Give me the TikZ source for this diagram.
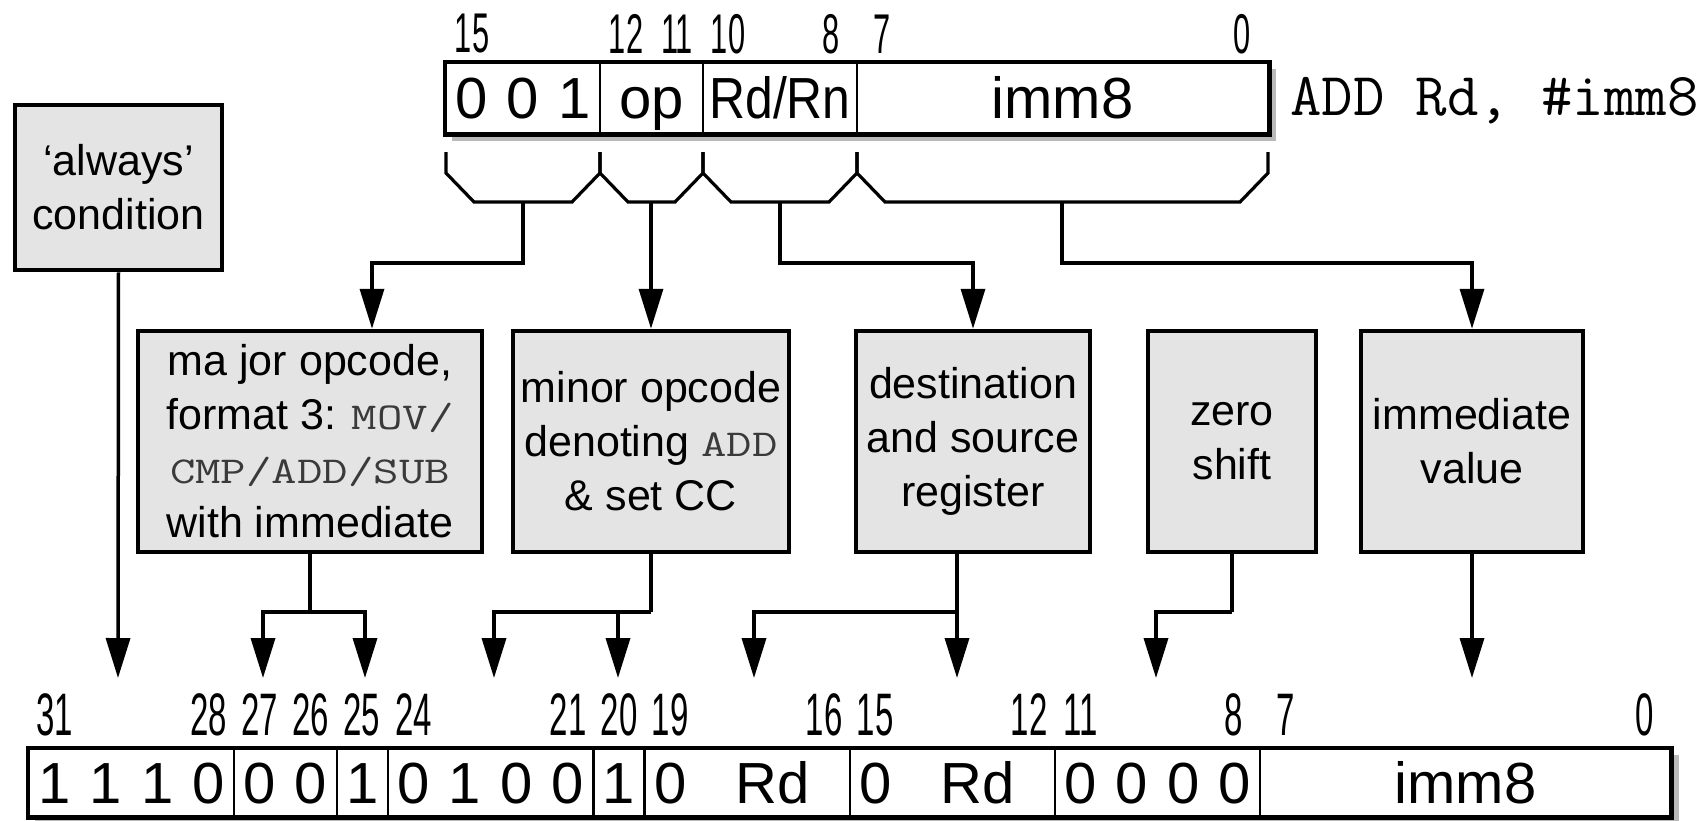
\documentclass[tikz,border=0pt]{standalone}
\usepackage{fontspec}
\setmainfont{Liberation Sans}
\newfontfamily\bitfont[FakeStretch=0.55]{Liberation Sans}
\usetikzlibrary{arrows.meta,calc,backgrounds}
\definecolor{boxgray}{HTML}{E4E4E4}
\definecolor{monogray}{HTML}{3A3A3A}
\newcommand{\mymono}[1]{{\color{monogray}\scalebox{1.3}[1]{\fontsize{38}{54}\selectfont\ttfamily #1}}}
\newcommand{\bd}[1]{\makebox[51.3pt]{#1}}
\tikzset{
  gbox/.style={draw, line width=4.5pt, fill=boxgray, align=center, inner sep=0pt,
               font=\fontsize{43}{54}\selectfont},
  conn/.style={line width=3.5pt},
  arr/.style={conn, -{Triangle[length=40pt,width=24pt]}},
  cell/.style={draw, line width=2.5pt, fill=white, inner sep=0pt,
               text height=41pt, text depth=0pt,
               font=\fontsize{58}{60}\selectfont},
  regframe/.style={draw, line width=4.5pt},
  regshadow/.style={fill=gray!55},
  bitlbl/.style={inner sep=0pt, font=\bitfont\fontsize{60}{60}\selectfont},
  bitlbltop/.style={inner sep=0pt, font=\bitfont\fontsize{56}{60}\selectfont},
  brk/.style={line width=3.2pt},
}
\begin{document}
\begin{tikzpicture}[x=1pt,y=-1pt]
\useasboundingbox (0,0) rectangle (1706,820);

% ---------------- top register ----------------
\node[cell, minimum width=154pt, minimum height=70pt] (t1) at (523,98) {\bd{0}\bd{0}\bd{1}};
\node[cell, minimum width=103pt, minimum height=70pt] (t2) at (651.5,98) {op};
\node[cell, minimum width=154pt, minimum height=70pt] (t3) at (780,98) {\scalebox{0.86}[1]{Rd/Rn}};
\node[cell, minimum width=411pt, minimum height=70pt] (t4) at (1062.5,98) {imm8};
\draw[regframe] (t1.north west) rectangle (t4.south east);
\begin{scope}[on background layer]
  \fill[regshadow] ($(t1.north west)+(7,7)$) rectangle ($(t4.south east)+(7,7)$);
\end{scope}

\foreach \x/\t in {472/15, 626/12, 677/11, 728/10, 831/8, 882/7, 1242/0}
  \node[bitlbltop] (tb\t) at (\x,34) {\t};

\node[anchor=base west, inner sep=0pt, font=\fontsize{61}{62}\selectfont\ttfamily]
  (asm) at (1290,115) {ADD Rd, \#imm8};

% brackets
\foreach \a/\b in {446/600, 600/703, 703/857, 857/1268}
  \draw[brk] (\a,152) -- (\a,173) -- (\a+28,202) -- (\b-28,202) -- (\b,173) -- (\b,152);
\coordinate (s1) at (523,202);
\coordinate (s2) at (651,202);
\coordinate (s3) at (780,202);
\coordinate (s4) at (1062,202);

% ---------------- boxes ----------------
\node[gbox, minimum width=207pt, minimum height=165pt] (always) at (118.5,187.5)
  {‘always’\\condition};
\node[gbox, minimum width=344pt, minimum height=221pt] (boxA) at (310,441.5)
  {ma jor opcode,\\format 3: \mymono{MOV/}\\\mymono{CMP/ADD/SUB}\\with immediate};
\node[gbox, minimum width=276pt, minimum height=221pt] (boxB) at (651,441.5)
  {minor opcode\\denoting \mymono{ADD}\\\& set CC};
\node[gbox, minimum width=234pt, minimum height=221pt] (boxC) at (973,441.5)
  {destination\\and source\\register};
\node[gbox, minimum width=168pt, minimum height=221pt] (boxD) at (1232,441.5)
  {zero\\shift};
\node[gbox, minimum width=222pt, minimum height=221pt] (boxE) at (1472,441.5)
  {immediate\\value};

% top connectors
\draw[arr] (s1) -- ++(0,61) -| ($(boxA.north)+(62,0)$);
\draw[arr] (s2) -- (boxB.north);
\draw[arr] (s3) -- ++(0,61) -| (boxC.north);
\draw[arr] (s4) -- ++(0,61) -| (boxE.north);

% ---------------- bottom register ----------------
\def\ry{782.5}
\node[cell, minimum width=205.2pt, minimum height=67pt] (c1) at (131.6,\ry) {\bd{1}\bd{1}\bd{1}\bd{0}};
\node[cell, minimum width=102.6pt, minimum height=67pt] (c2) at (285.5,\ry) {\bd{0}\bd{0}};
\node[cell, minimum width=51.3pt,  minimum height=67pt] (c3) at (362.45,\ry) {\bd{1}};
\node[cell, minimum width=205.2pt, minimum height=67pt] (c4) at (490.7,\ry) {\bd{0}\bd{1}\bd{0}\bd{0}};
\node[cell, minimum width=51.3pt,  minimum height=67pt] (c5) at (618.95,\ry) {\bd{1}};
\node[cell, minimum width=205.2pt, minimum height=67pt] (c6) at (747.2,\ry)
  {\bd{0}\makebox[153.9pt]{Rd}};
\node[cell, minimum width=205.2pt, minimum height=67pt] (c7) at (952.4,\ry)
  {\bd{0}\makebox[153.9pt]{Rd}};
\node[cell, minimum width=205.2pt, minimum height=67pt] (c8) at (1157.6,\ry) {\bd{0}\bd{0}\bd{0}\bd{0}};
\node[cell, minimum width=410.4pt, minimum height=67pt] (c9) at (1465.4,\ry) {imm8};
\draw[regframe] (c1.north west) rectangle (c9.south east);
\begin{scope}[on background layer]
  \fill[regshadow] ($(c1.north west)+(7,7)$) rectangle ($(c9.south east)+(7,7)$);
\end{scope}

\foreach \x/\t in {55/31, 208.5/28, 260/27, 311/26, 362/25, 414/24, 568/21, 619/20,
                   670/19, 824/16, 875/15, 1029/12, 1081/11, 1234/8, 1286/7, 1645/0}
  \node[bitlbl] (bb\t) at (\x,715) {\t};

% bottom connectors
\coordinate (hA) at (310,612);
\coordinate (hB) at (651,612);
\coordinate (hC) at (957,612);
\coordinate (hD) at (1232,612);
\coordinate (a31) at (118,678);
\coordinate (a27) at (263,678);
\coordinate (a25) at (365,678);
\coordinate (a23) at (494,678);
\coordinate (a20) at (618,678);
\coordinate (a18) at (754,678);
\coordinate (a14) at (957,678);
\coordinate (a10) at (1156,678);
\coordinate (a4)  at (1472,678);

\draw[arr] (always.south) -- (a31);
\draw[conn] (boxA.south) -- (hA);
\draw[arr] (hA) -| (a27);
\draw[arr] (hA) -| (a25);
\draw[conn] (boxB.south) -- (hB);
\draw[arr] (hB) -| (a23);
\draw[arr] (hB) -| (a20);
\draw[conn] (boxC.south -| hC) -- (hC);
\draw[arr] (hC) -| (a18);
\draw[arr] (hC) -- (a14);
\draw[conn] (boxD.south) -- (hD);
\draw[arr] (hD) -| (a10);
\draw[arr] (boxE.south) -- (a4);
\end{tikzpicture}
\end{document}
